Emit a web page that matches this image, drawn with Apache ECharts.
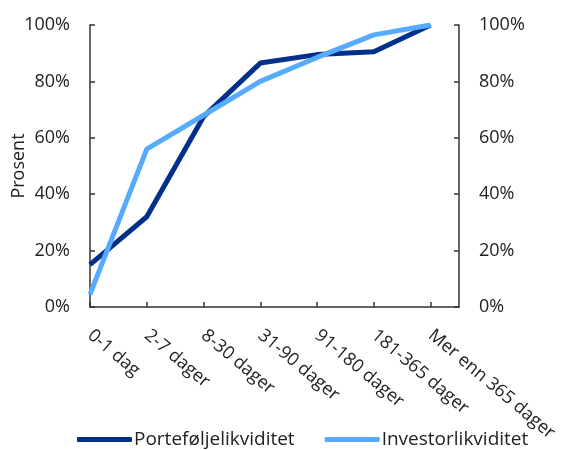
<!DOCTYPE html>
<html>
<head>
<meta charset="utf-8">
<style>
  html, body { margin: 0; padding: 0; background: #fff; }
  #chart { width: 565px; height: 450px; }
</style>
<script src="https://cdn.jsdelivr.net/npm/echarts@6/dist/echarts.min.js"></script>
</head>
<body>
<div id="chart"></div>
<script>
// Liquidity buckets (cumulative share)
const categories = ['0-1 dag', '2-7 dager', '8-30 dager', '31-90 dager', '91-180 dager', '181-365 dager', 'Mer enn 365 dager'];
const porteforlje = [15, 32, 67.5, 86.5, 89.5, 90.5, 100];
const investor = [4.5, 56, 68, 80, 88.5, 96.5, 100];
const yTicks = [0, 20, 40, 60, 80, 100];

const FONT = '"Open Sans", "Noto Sans", sans-serif';
const AXIS_COLOR = '#333333';
const TEXT_COLOR = '#222222';

const toPairs = vals => vals.map((v, i) => [i, v]);

const yAxisBase = {
  type: 'value',
  min: yTicks[0],
  max: yTicks[yTicks.length - 1],
  interval: 20,
  splitLine: { show: false },
  axisLine: { show: true, lineStyle: { color: AXIS_COLOR, width: 1.5 } },
  axisTick: { show: true, inside: true, length: 5, lineStyle: { color: AXIS_COLOR, width: 1.5 } },
  axisLabel: { formatter: '{value}%', color: TEXT_COLOR, fontFamily: FONT, fontSize: 18, margin: 20 }
};

const chart = echarts.init(document.getElementById('chart'));
chart.setOption({
  animation: false,
  grid: { left: 90, right: 106, top: 25, bottom: 143, containLabel: false, outerBoundsMode: 'none' },
  legend: {
    bottom: -4,
    left: 72,
    itemWidth: 55,
    itemHeight: 5,
    itemGap: 30,
    icon: 'roundRect',
    textStyle: { color: TEXT_COLOR, fontFamily: FONT, fontSize: 19, padding: [0, 0, 0, -3] },
    data: ['Porteføljelikviditet', 'Investorlikviditet']
  },
  xAxis: {
    type: 'value',
    min: 0,
    max: categories.length - 0.5,
    interval: 1,
    splitLine: { show: false },
    axisLine: { show: true, lineStyle: { color: AXIS_COLOR, width: 1.5 } },
    axisTick: { show: true, inside: true, length: 5, lineStyle: { color: AXIS_COLOR, width: 1.5 } },
    axisLabel: {
      rotate: -40,
      margin: 26,
      color: TEXT_COLOR,
      fontFamily: FONT,
      fontSize: 18,
      showMaxLabel: false,
      formatter: v => (Number.isInteger(v) && categories[v] !== undefined) ? categories[v] : ''
    }
  },
  yAxis: [
    Object.assign({}, yAxisBase, {
      position: 'left',
      name: 'Prosent',
      nameLocation: 'middle',
      nameGap: 62,
      nameMoveOverlap: false,
      nameTextStyle: { color: TEXT_COLOR, fontFamily: FONT, fontSize: 18 }
    }),
    Object.assign({}, yAxisBase, { position: 'right' })
  ],
  series: [
    {
      name: 'Porteføljelikviditet',
      type: 'line',
      data: toPairs(porteforlje),
      symbol: 'none',
      lineStyle: { color: '#00308a', width: 5 },
      itemStyle: { color: '#00308a' },
      z: 2
    },
    {
      name: 'Investorlikviditet',
      type: 'line',
      data: toPairs(investor),
      symbol: 'none',
      lineStyle: { color: '#56aaff', width: 5 },
      itemStyle: { color: '#56aaff' },
      z: 3
    }
  ]
});
</script>
</body>
</html>
